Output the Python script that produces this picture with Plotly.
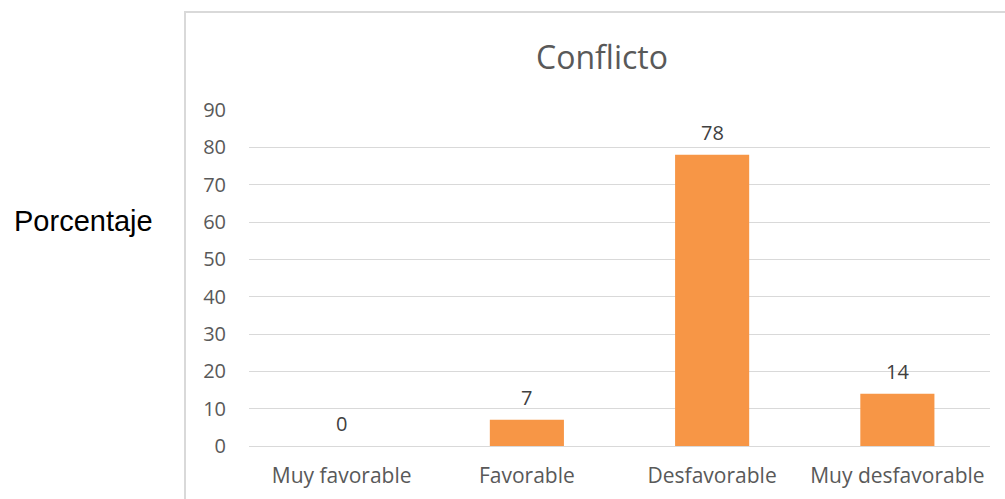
import plotly.graph_objects as go

categorias = ["Muy favorable", "Favorable", "Desfavorable", "Muy desfavorable"]
porcentajes = [0, 7, 78, 14]
ticks_y = [0, 10, 20, 30, 40, 50, 60, 70, 80, 90]

GRIS_TEXTO = "#595959"
GRIS_LINEA = "#d9d9d9"
NARANJA = "#F79646"
FUENTE = "Open Sans"

fig = go.Figure()
fig.add_trace(go.Bar(
    x=categorias,
    y=porcentajes,
    marker=dict(color=NARANJA, line=dict(width=0)),
    width=0.4,
    hoverinfo="x+y",
))

# Etiquetas de valor sobre cada barra
for c, v in zip(categorias, porcentajes):
    fig.add_annotation(x=c, y=v, text=str(v), showarrow=False,
                       yanchor="bottom", yshift=7,
                       font=dict(family=FUENTE, size=20, color="#404040"))

# Titulo del grafico
fig.add_annotation(text="Conflicto", xref="paper", yref="paper",
                   x=(602 - 249) / 741, y=(446 - 57) / 336,
                   xanchor="center", yanchor="middle", showarrow=False,
                   font=dict(family=FUENTE, size=32, color=GRIS_TEXTO))

# Titulo del eje vertical, fuera del marco
fig.add_annotation(text="Porcentaje", xref="paper", yref="paper",
                   x=(83 - 249) / 741, y=(446 - 221) / 336,
                   xanchor="center", yanchor="middle", showarrow=False,
                   font=dict(family="Liberation Sans", size=29, color="#000000"))

# Marco del area del grafico
fig.add_shape(type="rect", xref="paper", yref="paper",
              x0=(185 - 249) / 741, x1=(1012 - 249) / 741,
              y0=(446 - 505) / 336, y1=(446 - 12) / 336,
              line=dict(color=GRIS_LINEA, width=2), fillcolor="rgba(0,0,0,0)",
              layer="below")

fig.update_layout(
    width=1005, height=499,
    margin=dict(l=249, r=15, t=110, b=53),
    paper_bgcolor="white", plot_bgcolor="white",
    showlegend=False,
    bargap=0.6,
    font=dict(family=FUENTE, size=20, color=GRIS_TEXTO),
    xaxis=dict(showgrid=False, showline=False, ticks="", automargin=False,
               ticklabelstandoff=15,
               tickfont=dict(family=FUENTE, size=21, color=GRIS_TEXTO)),
    yaxis=dict(range=[0, 90], tickvals=ticks_y, showgrid=True,
               gridcolor=GRIS_LINEA, gridwidth=1, zeroline=True,
               zerolinecolor=GRIS_LINEA, zerolinewidth=1, showline=False,
               ticks="", ticklabelstandoff=22, automargin=False,
               tickfont=dict(family=FUENTE, size=20, color=GRIS_TEXTO)),
)

fig.write_html("out.html")
